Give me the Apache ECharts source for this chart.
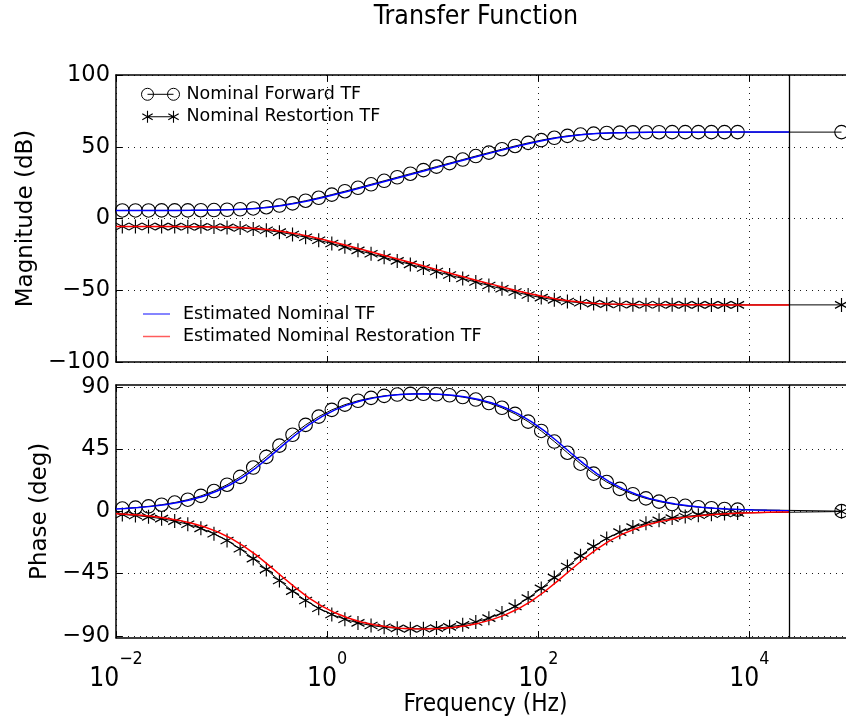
<!DOCTYPE html>
<html><head><meta charset="utf-8">
<script src="https://cdn.jsdelivr.net/npm/echarts@6/dist/echarts.min.js"></script>
<style>html,body{margin:0;padding:0;background:#fff;overflow:hidden}#c{width:862px;height:719px}</style>
</head><body><div id="c"></div>
<script>
// ---- data ----
const markerFreq = [0.01148, 0.01528, 0.02032, 0.02704, 0.03597, 0.04786, 0.06368, 0.08472, 0.1127, 0.15, 0.1995, 0.2655, 0.3532, 0.4699, 0.6252, 0.8318, 1.107, 1.472, 1.959, 2.606, 3.467, 4.613, 6.138, 8.166, 10.86, 14.45, 19.23, 25.59, 34.04, 45.29, 60.26, 80.17, 106.7, 141.9, 188.8, 251.2, 334.2, 444.6, 591.6, 787.0, 1047, 1393, 1854, 2466, 3281, 4365, 5808, 7727, 74500];
const nominalForwardMag = [5.61, 5.61, 5.62, 5.63, 5.65, 5.69, 5.77, 5.89, 6.10, 6.45, 7.01, 7.85, 9.03, 10.55, 12.38, 14.45, 16.67, 19.00, 21.40, 23.83, 26.28, 28.74, 31.21, 33.68, 36.15, 38.61, 41.07, 43.51, 45.91, 48.27, 50.54, 52.68, 54.60, 56.25, 57.55, 58.51, 59.17, 59.59, 59.84, 60.00, 60.08, 60.13, 60.16, 60.18, 60.19, 60.19, 60.20, 60.20, 60.20];
const nominalRestorationMag = [-5.61, -5.61, -5.62, -5.64, -5.66, -5.72, -5.81, -5.96, -6.21, -6.63, -7.28, -8.23, -9.52, -11.14, -13.04, -15.16, -17.42, -19.77, -22.18, -24.61, -27.07, -29.53, -32.00, -34.47, -36.94, -39.40, -41.85, -44.28, -46.67, -49.00, -51.22, -53.29, -55.13, -56.67, -57.86, -58.72, -59.30, -59.67, -59.89, -60.03, -60.10, -60.14, -60.17, -60.18, -60.19, -60.20, -60.20, -60.20, -60.20];
const nominalForwardPhase = [2.03, 2.70, 3.60, 4.79, 6.36, 8.44, 11.16, 14.70, 19.25, 24.92, 31.70, 39.40, 47.52, 55.41, 62.53, 68.55, 73.40, 77.17, 80.01, 82.09, 83.54, 84.48, 84.97, 85.04, 84.71, 83.94, 82.69, 80.87, 78.33, 74.92, 70.49, 64.91, 58.17, 50.50, 42.40, 34.48, 27.30, 21.22, 16.27, 12.38, 9.36, 7.07, 5.32, 4.00, 3.02, 2.27, 1.71, 1.28, 0.13];
const nominalRestorationPhase = [-2.24, -2.99, -3.98, -5.29, -7.03, -9.31, -12.29, -16.16, -21.06, -27.09, -34.16, -42.00, -50.04, -57.69, -64.46, -70.10, -74.61, -78.08, -80.68, -82.55, -83.84, -84.64, -84.99, -84.93, -84.46, -83.54, -82.11, -80.06, -77.24, -73.50, -68.70, -62.75, -55.72, -47.91, -39.87, -32.18, -25.35, -19.64, -15.03, -11.41, -8.63, -6.51, -4.90, -3.69, -2.78, -2.09, -1.57, -1.18, -0.12];

const estimatedFreq = [0.01, 0.0123, 0.01637, 0.02178, 0.02897, 0.03855, 0.05129, 0.06823, 0.09078, 0.1208, 0.1607, 0.2138, 0.2844, 0.3784, 0.5035, 0.6699, 0.8913, 1.186, 1.578, 2.099, 2.793, 3.715, 4.943, 6.577, 8.75, 11.64, 15.49, 20.61, 27.42, 36.48, 48.53, 64.57, 85.9, 114.3, 152.1, 202.3, 269.2, 358.1, 476.4, 633.9, 843.3, 1122, 1493, 1986, 2642, 3516, 4677, 6223, 8279, 11015, 14655, 19498, 24000];
const estimatedForwardMag = [5.60, 5.61, 5.61, 5.62, 5.63, 5.65, 5.69, 5.77, 5.89, 6.10, 6.45, 7.01, 7.85, 9.03, 10.55, 12.38, 14.45, 16.67, 19.00, 21.40, 23.83, 26.28, 28.74, 31.21, 33.68, 36.15, 38.61, 41.07, 43.51, 45.91, 48.27, 50.54, 52.68, 54.60, 56.25, 57.55, 58.51, 59.17, 59.59, 59.84, 60.00, 60.08, 60.13, 60.16, 60.18, 60.19, 60.19, 60.20, 60.20, 60.20, 60.20, 60.20, 60.20];
const estimatedRestorationMag = [-5.60, -5.61, -5.61, -5.62, -5.63, -5.65, -5.69, -5.77, -5.89, -6.10, -6.45, -7.01, -7.85, -9.03, -10.55, -12.38, -14.45, -16.67, -19.00, -21.40, -23.83, -26.28, -28.74, -31.21, -33.68, -36.15, -38.61, -41.07, -43.51, -45.91, -48.27, -50.54, -52.68, -54.60, -56.25, -57.55, -58.51, -59.17, -59.59, -59.84, -60.00, -60.08, -60.13, -60.16, -60.18, -60.19, -60.19, -60.20, -60.20, -60.20, -60.20, -60.20, -60.20];
const estimatedForwardPhase = [1.66, 2.03, 2.70, 3.60, 4.79, 6.36, 8.44, 11.16, 14.70, 19.25, 24.92, 31.70, 39.40, 47.52, 55.41, 62.53, 68.55, 73.40, 77.17, 80.01, 82.09, 83.54, 84.48, 84.97, 85.04, 84.71, 83.94, 82.69, 80.87, 78.33, 74.92, 70.49, 64.91, 58.17, 50.50, 42.40, 34.48, 27.30, 21.22, 16.27, 12.38, 9.36, 7.07, 5.32, 4.00, 3.02, 2.27, 1.71, 1.28, 0.96, 0.72, 0.54, 0.44];
const estimatedRestorationPhase = [-1.66, -2.03, -2.70, -3.60, -4.79, -6.36, -8.44, -11.16, -14.70, -19.25, -24.92, -31.70, -39.40, -47.52, -55.41, -62.53, -68.55, -73.40, -77.17, -80.01, -82.09, -83.54, -84.48, -84.97, -85.04, -84.71, -83.94, -82.69, -80.87, -78.33, -74.92, -70.49, -64.91, -58.17, -50.50, -42.40, -34.48, -27.30, -21.22, -16.27, -12.38, -9.36, -7.07, -5.32, -4.00, -3.02, -2.27, -1.71, -1.28, -0.96, -0.72, -0.54, -0.44];

const xTicks = [0.01, 1, 100, 10000];
const magTicks = [-100, -50, 0, 50, 100];
const phaseTicks = [-90, -45, 0, 45, 90];
const nyquistFreq = 24000;
const seriesNames = ['Nominal Forward TF', 'Nominal Restortion TF', 'Estimated Nominal TF', 'Estimated Nominal Restoration TF'];
const titleText = 'Transfer Function';
const xName = 'Frequency (Hz)';
const magName = 'Magnitude (dB)';
const phaseName = 'Phase (deg)';

// ---- styling helpers ----
const NARROW = "'Liberation Sans Narrow', 'DejaVu Sans Condensed', 'Arial Narrow', 'DejaVu Sans', sans-serif";
const SANS = "'DejaVu Sans', 'Noto Sans', sans-serif";
const mctx = document.createElement('canvas').getContext('2d');
function fitSize(text, family, target) {
  mctx.font = '100px ' + family;
  return 100 * target / mctx.measureText(text).width;
}
const titleSize = fitSize(titleText, NARROW, 204);
const xNameSize = fitSize(xName, NARROW, 164);
const tickBase = fitSize('10', NARROW, 30);
const tickSup = tickBase * 0.68;
const minus = v => (v < 0 ? '\u2212' + (-v) : String(v));
const pairs = (xs, ys) => xs.map((x, i) => [x, ys[i]]);

const STAR = 'path://M0,-10L0,10M-8.66,-5L8.66,5M-8.66,5L8.66,-5';
const CIRCLE_ICON = 'path://M0,6A6,6,0,1,1,12,6A6,6,0,1,1,0,6ZM6,6L32,6M26,6A6,6,0,1,1,38,6A6,6,0,1,1,26,6Z';
const STAR_ICON = 'path://M6,0L6,12M0.8,3L11.2,9M0.8,9L11.2,3M6,6L32,6M32,0L32,12M26.8,3L37.2,9M26.8,9L37.2,3';

const GRID_LEFT = 116, GRID_W = 739;
const grids = [
  {left: GRID_LEFT, top: 75, width: GRID_W, height: 287},
  {left: GRID_LEFT, top: 385, width: GRID_W, height: 252.7}
];

function xAxis(gridIndex, position, showLabel, name) {
  const ax = {
    type: 'log', logBase: 10, gridIndex, position, min: 0.01, max: 100000,
    axisLine: {show: true, onZero: false, lineStyle: {color: '#000', width: 1.5}},
    axisTick: {show: true, inside: true, length: 6, customValues: xTicks, lineStyle: {color: '#000', width: 1}},
    minorTick: {show: false},
    splitLine: {show: position === 'bottom', lineStyle: {color: '#000', width: 1, type: [1, 5], opacity: 0.9}},
    axisLabel: {
      show: showLabel, customValues: xTicks, margin: 13,
      formatter: v => { const e = Math.round(Math.log10(v)); return '{b|10}{s|' + minus(e) + '}'; },
      rich: {
        b: {fontSize: tickBase, fontFamily: NARROW, color: '#000', lineHeight: 41, verticalAlign: 'bottom'},
        s: {fontSize: tickSup, fontFamily: NARROW, color: '#000', lineHeight: tickSup, verticalAlign: 'top'}
      }
    }
  };
  if (name) {
    ax.name = name; ax.nameLocation = 'middle';
    ax.nameGap = 697 - xNameSize / 2 - 638;
    ax.nameTextStyle = {fontSize: xNameSize, fontFamily: NARROW, color: '#000', lineHeight: xNameSize};
  }
  return ax;
}
function yAxis(gridIndex, min, max, ticks, name, gap) {
  return {
    type: 'value', gridIndex, min, max,
    name, nameLocation: 'middle', nameGap: gap,
    nameTextStyle: {fontSize: 23, fontFamily: SANS, color: '#000', lineHeight: 23},
    axisLine: {show: true, onZero: false, lineStyle: {color: '#000', width: 1.5}},
    axisTick: {show: true, inside: true, length: 6, customValues: ticks, lineStyle: {color: '#000', width: 1}},
    splitLine: {show: true, lineStyle: {color: '#000', width: 1, type: [1, 5], opacity: 0.9}},
    axisLabel: {fontSize: 22.5, fontFamily: SANS, color: '#000', margin: 6, customValues: ticks, formatter: minus}
  };
}

const openMarker = {color: 'transparent', borderColor: '#000', borderWidth: 1.1};
const starMarker = {color: 'transparent', borderColor: '#000', borderWidth: 1.2};
function panelSeries(xi, yi, fwdNom, resNom, fwdEst, resEst) {
  return [
    {name: seriesNames[0], type: 'line', xAxisIndex: xi, yAxisIndex: yi, data: pairs(markerFreq, fwdNom),
     symbol: 'circle', symbolSize: 13.5, itemStyle: openMarker, lineStyle: {color: '#000', width: 1}, z: 2},
    {name: seriesNames[1], type: 'line', xAxisIndex: xi, yAxisIndex: yi, data: pairs(markerFreq, resNom),
     symbol: STAR, symbolSize: [13, 14], symbolKeepAspect: false, itemStyle: starMarker, lineStyle: {color: '#000', width: 1}, z: 2},
    {name: seriesNames[2], type: 'line', xAxisIndex: xi, yAxisIndex: yi, data: pairs(estimatedFreq, fwdEst),
     symbol: 'none', itemStyle: {color: '#0000ff'}, lineStyle: {color: '#0000ff', width: 1.5}, z: 3,
     markLine: {silent: true, symbol: 'none', label: {show: false}, animation: false,
       lineStyle: {color: '#000', width: 1.3, type: 'solid'}, data: [{xAxis: nyquistFreq}]}},
    {name: seriesNames[3], type: 'line', xAxisIndex: xi, yAxisIndex: yi, data: pairs(estimatedFreq, resEst),
     symbol: 'none', itemStyle: {color: '#ff0000'}, lineStyle: {color: '#ff0000', width: 1.5}, z: 3}
  ];
}

const chart = echarts.init(document.getElementById('c'), null, {renderer: 'canvas'});
chart.setOption({
  animation: false,
  backgroundColor: '#fff',
  grid: grids,
  xAxis: [
    xAxis(0, 'bottom', false),
    xAxis(0, 'top', false),
    xAxis(1, 'bottom', true, xName),
    xAxis(1, 'top', false)
  ],
  yAxis: [
    yAxis(0, -100, 100, magTicks, magName, 78.5),
    yAxis(1, -91.4, 91.4, phaseTicks, phaseName, 63)
  ],
  legend: [
    {left: 141, top: 85.3, orient: 'vertical', padding: 0, itemGap: 4.4, itemWidth: 38, itemHeight: 12,
     selectedMode: false, textStyle: {fontSize: 17.5, fontFamily: SANS, color: '#000', lineHeight: 18, padding: [0, 0, 0, 2]},
     data: [
       {name: seriesNames[0], icon: CIRCLE_ICON, itemStyle: {color: 'transparent', borderColor: '#000', borderWidth: 1}},
       {name: seriesNames[1], icon: STAR_ICON, itemStyle: {color: 'transparent', borderColor: '#000', borderWidth: 1.1}}
     ]},
    {left: 143, top: 305, orient: 'vertical', padding: 0, itemGap: 4.5, itemWidth: 27, itemHeight: 1.5,
     selectedMode: false, textStyle: {fontSize: 17.5, fontFamily: SANS, color: '#000', lineHeight: 18, padding: [0, 0, 0, 8]},
     data: [
       {name: seriesNames[2], icon: 'rect', itemStyle: {color: '#5c5cff'}},
       {name: seriesNames[3], icon: 'rect', itemStyle: {color: '#ff5c5c'}}
     ]}
  ],
  graphic: [
    {type: 'text', x: 476, y: 17.5, silent: true,
     style: {text: titleText, font: titleSize.toFixed(1) + 'px ' + NARROW, fill: '#000', align: 'center', verticalAlign: 'middle'}}
  ],
  series: [
    ...panelSeries(0, 0, nominalForwardMag, nominalRestorationMag, estimatedForwardMag, estimatedRestorationMag),
    ...panelSeries(2, 1, nominalForwardPhase, nominalRestorationPhase, estimatedForwardPhase, estimatedRestorationPhase)
  ]
});
</script>
</body></html>
